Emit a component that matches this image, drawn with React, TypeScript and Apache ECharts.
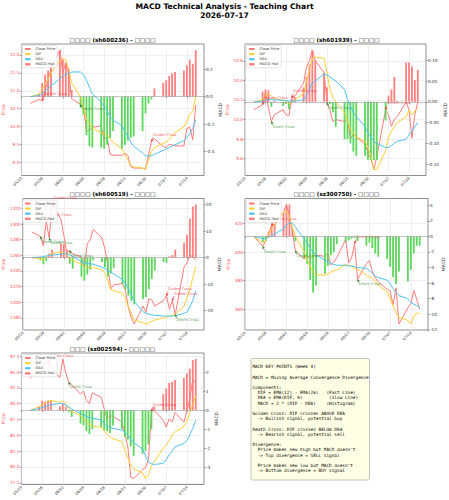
import { useEffect, useRef } from 'react';
import * as echarts from 'echarts';

// Trading days shown on every panel
const dates = [
  '05/22',
  '05/25', '05/26', '05/27', '05/28', '05/29',
  '06/01', '06/02', '06/03', '06/04', '06/05',
  '06/08', '06/09', '06/10', '06/11', '06/12',
  '06/15', '06/16', '06/17', '06/18', '06/19',
  '06/22', '06/23', '06/24', '06/25', '06/26',
  '06/29', '06/30', '07/01', '07/02', '07/03',
  '07/06', '07/07', '07/08', '07/09', '07/10',
  '07/13', '07/14', '07/15', '07/16', '07/17',
];
const weekTicks = ['05/19', '05/26', '06/02', '06/09', '06/16', '06/23', '06/30', '07/07', '07/14'];

// sh600236
const close600236 = [10.65, 10.76, 10.72, 11.02, 11.3, 11.6, 12.14, 11.5, 11.78, 11.48, 10.78, 10.62, 10.55, 9.86, 9.92, 9.98, 10.02, 9.62, 9.72, 9.22, 9.2, 9.2, 9.25, 9.2, 8.88, 8.84, 8.84, 8.8, 9.2, 9.58, 9.66, 9.44, 9.42, 9.5, 9.49, 9.46, 9.46, 9.95, 9.98, 9.63, 10.6];
const dif600236 = [0, 0.02, 0.05, 0.09, 0.13, 0.17, 0.26, 0.28, 0.27, 0.2, 0.1, 0.0, -0.08, -0.16, -0.2, -0.23, -0.26, -0.27, -0.28, -0.31, -0.33, -0.38, -0.42, -0.46, -0.5, -0.51, -0.52, -0.53, -0.46, -0.4, -0.37, -0.34, -0.33, -0.31, -0.29, -0.26, -0.22, -0.18, -0.13, -0.1, 0.0];
const dea600236 = [0, 0.01, 0.02, 0.04, 0.06, 0.08, 0.13, 0.15, 0.16, 0.17, 0.18, 0.18, 0.16, 0.12, 0.07, 0.02, -0.04, -0.07, -0.1, -0.15, -0.17, -0.21, -0.25, -0.29, -0.33, -0.36, -0.41, -0.43, -0.43, -0.43, -0.42, -0.39, -0.38, -0.37, -0.36, -0.35, -0.32, -0.3, -0.27, -0.23, -0.17];
const hist600236 = [0.0, 0.02, 0.1, 0.16, 0.19, 0.22, 0.34, 0.27, 0.25, 0.2, 0.05, -0.08, -0.13, -0.28, -0.36, -0.37, -0.37, -0.38, -0.35, -0.3, -0.25, -0.38, -0.35, -0.32, -0.3, -0.29, -0.25, -0.12, -0.05, -0.02, 0.06, 0.1, 0.12, 0.15, 0.17, 0.18, 0.19, 0.23, 0.27, 0.24, 0.34];
const priceTicks600236 = ['9.0', '9.5', '10.0', '10.5', '11.0', '11.5', '12.0'];
const macdTicks600236 = ['-0.4', '-0.2', '0.0', '0.2'];
const crosses600236: [number, string][] = [[2, 'golden'], [11, 'death'], [29, 'golden']];

// sh601939
const close601939 = [10.1, 10.15, 10.28, 10.12, 9.98, 10.05, 10.1, 10.05, 10.04, 10.22, 10.24, 10.37, 10.54, 10.6, 10.71, 10.6, 10.48, 10.17, 10.1, 9.98, 10.0, 9.98, 10.0, 9.8, 9.85, 9.82, 9.75, 9.66, 9.6, 9.49, 9.62, 10.1, 10.05, 9.93, 10.0, 10.03, 10.18, 10.1, 9.81, 10.05, 10.18];
const dif601939 = [0, 0.005, 0.015, 0.02, 0.015, 0.008, 0.004, 0.0, -0.004, 0.0, 0.004, 0.02, 0.05, 0.08, 0.104, 0.108, 0.105, 0.07, 0.03, 0.01, 0.0, -0.026, -0.045, -0.068, -0.075, -0.085, -0.095, -0.11, -0.13, -0.163, -0.163, -0.118, -0.085, -0.07, -0.06, -0.05, -0.036, -0.02, -0.032, -0.022, -0.016];
const dea601939 = [0, 0.002, 0.004, 0.006, 0.006, 0.005, 0.004, 0.003, 0.002, 0.002, 0.002, 0.005, 0.015, 0.03, 0.045, 0.05, 0.067, 0.065, 0.06, 0.055, 0.05, 0.03, 0.005, -0.01, -0.025, -0.035, -0.06, -0.075, -0.085, -0.095, -0.1, -0.11, -0.11, -0.105, -0.1, -0.095, -0.09, -0.08, -0.07, -0.06, -0.05];
const hist601939 = [0, 0.025, 0.03, 0.028, -0.012, 0.003, -0.01, -0.005, -0.018, 0.008, 0.012, 0.035, 0.06, 0.09, 0.125, 0.1, 0.07, 0.035, -0.005, -0.025, -0.06, -0.09, -0.09, -0.1, -0.12, -0.13, -0.13, -0.14, -0.14, -0.14, -0.14, -0.045, 0.015, 0.03, 0.06, 0.002, 0.095, 0.095, 0.085, 0.053, 0.077];
const priceTicks601939 = ['9.6', '9.8', '10.0', '10.2', '10.4', '10.6'];
const macdTicks601939 = ['-0.15', '-0.10', '-0.05', '0.00', '0.05', '0.10'];
const crosses601939: [number, string][] = [[1, 'golden'], [4, 'death'], [9, 'golden'], [17, 'death'], [31, 'golden']];

// sh600519
const close600519 = [1290, 1284, 1272, 1303, 1282, 1325, 1306, 1285, 1262, 1266, 1262, 1258, 1244, 1275, 1280, 1293, 1282, 1268, 1247, 1217, 1222, 1224, 1215, 1193, 1180, 1172, 1195, 1187, 1204, 1203, 1195, 1202, 1208, 1191, 1202, 1184, 1245, 1250, 1260, 1258, 1254];
const dif600519 = [0, -0.5, -0.8, 0.2, 1.0, 1.6, 2.2, 1.8, 1.0, 0.0, -1.0, -2.5, -3.5, -3.7, -3.8, -3.8, -4.6, -6.0, -8.7, -12.2, -12.4, -13.5, -15.5, -18.5, -21, -23.5, -24.5, -25, -24.5, -24, -23.5, -22.7, -22.4, -22, -21.7, -21.3, -18.3, -15, -12, -7.4, -3.3];
const dea600519 = [0, 0.2, 0.4, 0.6, 0.8, 1.0, 1.3, 1.5, 1.3, 1.0, 0.5, -1.6, -2.0, -2.2, -2.3, -2.5, -3.6, -4.2, -4.8, -5.5, -6.1, -8.3, -9.8, -11.6, -14, -16.5, -20.3, -21, -21.3, -21.6, -21.7, -22, -22, -22, -22, -21.8, -21, -20.5, -18.5, -16, -12.5];
const hist600519 = [0, -1.0, -2.5, -1.2, 1.5, 3.0, 5.3, 5.0, 3.0, -2.3, -4.2, -7.2, -8.7, -6.4, -4.6, -1.0, -1.7, -3.6, -7.2, -6.0, -4.0, -10, -12, -14.4, -16.3, -17.6, -15.7, -14.8, -11.9, -8, -4.9, -1.7, -2, 0.5, 0.9, 3, 5.6, 8.6, 14.6, 19.2, 20];
const priceTicks600519 = ['1180', '1200', '1220', '1240', '1260', '1280', '1300', '1320'];
const macdTicks600519 = ['-20', '-10', '0', '10', '20'];
const crosses600519: [number, string][] = [[5, 'golden'], [3, 'golden'], [1, 'death'], [4, 'death'], [9, 'death'], [32, 'golden'], [34, 'golden'], [35, 'death']];

// sz300750
const close300750 = [411, 404, 408, 413.6, 418.4, 419, 428, 433.4, 425, 415, 401, 395, 398, 395, 397, 398, 397, 399.5, 391, 393, 396, 409, 392.5, 396, 406, 381, 392, 394, 386.6, 382, 379, 374, 373, 363, 375, 349.6, 361, 364, 373, 367, 360];
const dif300750 = [0, -0.8, -0.6, 0.3, 1.0, 1.6, 3.0, 3.3, 2.5, 1.2, 0.0, -2.0, -3.0, -3.8, -4.6, -4.9, -5.0, -4.8, -4.6, -4.4, -4.3, -3.6, -3.7, -3.9, -4.1, -4.2, -5.0, -5.2, -5.4, -5.8, -6.3, -7.1, -8.0, -8.9, -9.8, -10.4, -10.8, -11.25, -10.3, -9.8, -10.0];
const dea300750 = [0, -0.3, -0.3, -0.1, 0.1, 0.3, 1.0, 1.5, 1.7, 1.7, 1.2, -0.3, -0.9, -1.5, -2.0, -2.4, -3.0, -3.3, -3.5, -3.6, -3.7, -3.7, -3.8, -3.8, -3.9, -4.0, -4.1, -4.4, -4.7, -5.1, -5.3, -5.6, -6.1, -6.7, -7.2, -7.6, -8.0, -8.5, -8.7, -8.9, -9.1];
const hist300750 = [0, -0.7, -0.6, 0.6, 1.3, 1.6, 3.0, 4.1, 4.1, 1.0, -0.6, -2.8, -3.5, -5.6, -7.2, -6.3, -4.8, -3.8, -2.4, -2.0, -1.0, -0.7, -0.5, -0.3, -0.2, -0.6, -1.2, -0.8, -1.5, -2.2, -2.6, -2.9, -3.9, -5.2, -6.1, -4.5, -5.8, -4.3, -2.2, -1.2, -1.2];
const priceTicks300750 = ['360', '380', '400', '420'];
const macdTicks300750 = ['-12', '-10', '-8', '-6', '-4', '-2', '0', '2', '4'];
const crosses300750: [number, string][] = [[4, 'golden'], [1, 'death'], [10, 'death'], [24, 'golden'], [25, 'death']];

// sz002594
const close002594 = [94.05, 95.3, 95.85, 96.6, 96.4, 95.9, 94.1, 97.06, 94.8, 93.4, 93.0, 91.5, 92.0, 90.5, 90.0, 91.7, 91.0, 89.2, 87.6, 88.1, 88.0, 87.1, 85.3, 83.2, 78.4, 78.18, 79.6, 79.9, 81.2, 88.8, 88.9, 87.4, 86.3, 87.6, 87.1, 88.6, 87.1, 88.9, 90.7, 93.8, 93.3];
const dif002594 = [0, 0.2, 0.3, 0.4, 0.48, 0.52, 0.42, 0.5, 0.35, 0.1, -0.05, -0.28, -0.45, -0.62, -0.75, -0.84, -0.9, -1.1, -1.25, -1.4, -1.5, -1.65, -2.1, -2.5, -2.9, -3.1, -3.3, -3.6, -3.4, -2.95, -2.7, -2.0, -1.85, -1.6, -1.3, -1.15, -0.84, -0.6, -0.1, 0.3, 0.76];
const dea002594 = [0, 0.1, 0.15, 0.2, 0.25, 0.3, 0.36, 0.36, 0.28, 0.17, 0.07, -0.17, -0.25, -0.33, -0.38, -0.42, -0.5, -0.7, -0.85, -0.9, -0.95, -1.05, -1.14, -1.3, -1.55, -1.7, -2.05, -2.4, -2.75, -2.82, -2.86, -2.8, -2.6, -2.35, -2.15, -1.92, -1.75, -1.6, -1.3, -0.95, -0.53];
const hist002594 = [0, 0.2, 0.5, 0.45, 0.5, 0.55, 0.2, 0.35, 0.2, -0.1, -0.35, -0.7, -0.8, -1.1, -1.25, -1.0, -0.9, -1.05, -1.1, -1.2, -0.8, -1.0, -1.4, -1.55, -1.9, -2.4, -2.3, -2.15, -1.8, -1.0, 0.2, 0.85, 1.15, 1.45, 1.5, 1.6, 1.7, 1.95, 2.2, 2.65, 2.71];
const priceTicks002594 = ['77.5', '80.0', '82.5', '85.0', '87.5', '90.0', '92.5', '95.0', '97.5'];
const macdTicks002594 = ['-3', '-2', '-1', '0', '1', '2'];
const crosses002594: [number, string][] = [[4, 'golden'], [9, 'death'], [29, 'golden']];

const keyPoints = [
  'MACD KEY POINTS (Week 4)',
  '',
  'MACD = Moving Average Convergence Divergence',
  '',
  'Components:',
  '  DIF = EMA(12) - EMA(26)   (Fast Line)',
  '  DEA = EMA(DIF, 9)          (Slow Line)',
  '  MACD = 2 * (DIF - DEA)    (Histogram)',
  '',
  'Golden Cross: DIF crosses ABOVE DEA',
  '  -> Bullish signal, potential buy',
  '',
  'Death Cross: DIF crosses BELOW DEA',
  '  -> Bearish signal, potential sell',
  '',
  'Divergence:',
  "  Price makes new high but MACD doesn't",
  '  -> Top divergence = SELL signal',
  '',
  "  Price makes new low but MACD doesn't",
  '  -> Bottom divergence = BUY signal',
];

// Colours
const PRICE_COLOR = '#ff7b7b';
const PRICE_TEXT = '#ff4d4d';
const DIF_COLOR = '#ffd033';
const DEA_COLOR = '#4cc3f5';
const UP_COLOR = '#ff7f7f';
const DOWN_COLOR = '#5bd75b';
const GOLDEN_COLOR = '#ee3333';
const DEATH_COLOR = '#2a8a2a';
const GRID_COLOR = '#e6e6e6';
const FONT = 'DejaVu Sans';

// Layout of the 3 x 2 subplot grid
const COLS = [21, 245];
const COL_W = 183;
const ROWS = [44, 198.5, 353];
const ROW_H = 131.5;

const dayOf = (s: string) => {
  const [m, d] = s.split('/').map(Number);
  return Math.round((Date.UTC(2026, m - 1, d) - Date.UTC(2026, 4, 19)) / 86400000);
};
const days = dates.map(dayOf);
const tickDays = weekTicks.map(dayOf);
const X_MIN = 0;
const X_MAX = days[days.length - 1] + (days[days.length - 1] - days[0]) * 0.05;

const padExtent = (vals: number[]) => {
  const lo = Math.min(...vals);
  const hi = Math.max(...vals);
  const m = (hi - lo) * 0.05;
  return [lo - m, hi + m];
};

const panels = [
  { title: '□□□□ (sh600236) - □□□□', close: close600236, dif: dif600236, dea: dea600236, hist: hist600236, priceTicks: priceTicks600236, macdTicks: macdTicks600236, crosses: crosses600236, col: 0, row: 0, priceGap: 13, macdGap: 11 },
  { title: '□□□□ (sh601939) - □□□□', close: close601939, dif: dif601939, dea: dea601939, hist: hist601939, priceTicks: priceTicks601939, macdTicks: macdTicks601939, crosses: crosses601939, col: 1, row: 0, priceGap: 13, macdGap: 13 },
  { title: '□□□□ (sh600519) - □□□□', close: close600519, dif: dif600519, dea: dea600519, hist: hist600519, priceTicks: priceTicks600519, macdTicks: macdTicks600519, crosses: crosses600519, col: 0, row: 1, priceGap: 13, macdGap: 10 },
  { title: '□□□□ (sz300750) - □□□□', close: close300750, dif: dif300750, dea: dea300750, hist: hist300750, priceTicks: priceTicks300750, macdTicks: macdTicks300750, crosses: crosses300750, col: 1, row: 1, priceGap: 11, macdGap: 10 },
  { title: '□□□ (sz002594) - □□□□□', close: close002594, dif: dif002594, dea: dea002594, hist: hist002594, priceTicks: priceTicks002594, macdTicks: macdTicks002594, crosses: crosses002594, col: 0, row: 2, priceGap: 13, macdGap: 9 },
];

function buildOption() {
  const grid: any[] = [];
  const xAxis: any[] = [];
  const yAxis: any[] = [];
  const series: any[] = [];
  const legend: any[] = [];
  const graphic: any[] = [
    { type: 'text', x: 224.5, y: 6.5, style: { text: 'MACD Technical Analysis - Teaching Chart', font: `bold 7.6px "${FONT}"`, fill: '#000', align: 'center', verticalAlign: 'middle' } },
    { type: 'text', x: 224.5, y: 15.5, style: { text: '2026-07-17', font: `bold 7.6px "${FONT}"`, fill: '#000', align: 'center', verticalAlign: 'middle' } },
  ];

  const tickLabel = (ticks: string[]) => (v: number) => {
    const t = ticks.find((s) => Math.abs(Number(s) - v) < 1e-9);
    return t ?? '';
  };

  panels.forEach((p, k) => {
    const left = COLS[p.col];
    const top = ROWS[p.row];
    const [pMin, pMax] = padExtent(p.close);
    const [mMin, mMax] = padExtent([...p.dif, ...p.dea, ...p.hist, 0]);
    const priceVals = p.priceTicks.map(Number).filter((v) => v >= pMin && v <= pMax);
    const macdVals = p.macdTicks.map(Number).filter((v) => v >= mMin && v <= mMax);

    grid.push({ left, top, width: COL_W, height: ROW_H, show: true, borderColor: '#444', borderWidth: 0.6, backgroundColor: 'transparent' });

    xAxis.push({
      type: 'value', gridIndex: k, min: X_MIN, max: X_MAX,
      axisLine: { show: false },
      axisTick: { show: true, length: 1.5, lineStyle: { color: '#444', width: 0.6 }, customValues: tickDays },
      axisLabel: { customValues: tickDays, formatter: (v: number) => weekTicks[tickDays.indexOf(Math.round(v))] ?? '', rotate: 45, fontSize: 3.8, color: '#333', margin: 2, fontFamily: FONT },
      splitLine: { show: true, lineStyle: { color: GRID_COLOR, width: 0.6 } },
    });

    yAxis.push({
      type: 'value', gridIndex: k, position: 'left', min: pMin, max: pMax,
      name: 'Price', nameLocation: 'middle', nameGap: p.priceGap, nameRotate: 90,
      nameTextStyle: { color: PRICE_TEXT, fontSize: 4.6, fontFamily: FONT },
      axisLine: { show: false },
      axisTick: { show: true, length: 1.5, lineStyle: { color: '#444', width: 0.6 }, customValues: priceVals },
      axisLabel: { customValues: priceVals, formatter: tickLabel(p.priceTicks), fontSize: 4.3, color: PRICE_TEXT, margin: 2, fontFamily: FONT },
      splitLine: { show: true, lineStyle: { color: GRID_COLOR, width: 0.6 } },
    });
    yAxis.push({
      type: 'value', gridIndex: k, position: 'right', min: mMin, max: mMax,
      name: 'MACD', nameLocation: 'middle', nameGap: p.macdGap, nameRotate: 90,
      nameTextStyle: { color: '#333', fontSize: 4.6, fontFamily: FONT },
      axisLine: { show: false },
      axisTick: { show: true, length: 1.5, lineStyle: { color: '#444', width: 0.6 }, customValues: macdVals },
      axisLabel: { customValues: macdVals, formatter: tickLabel(p.macdTicks), fontSize: 4.3, color: '#333', margin: 2, fontFamily: FONT },
      splitLine: { show: false },
    });

    const pts = (arr: number[]) => arr.map((v, i) => [days[i], v]);

    series.push({
      type: 'line', name: 'Close Price', xAxisIndex: k, yAxisIndex: 2 * k,
      data: pts(p.close), symbol: 'none', z: 1,
      lineStyle: { color: PRICE_COLOR, width: 1 }, itemStyle: { color: PRICE_COLOR },
    });
    series.push({
      type: 'bar', name: 'MACD Hist', xAxisIndex: k, yAxisIndex: 2 * k + 1, barWidth: 1.8, z: 2,
      itemStyle: { color: UP_COLOR },
      data: p.hist.map((v, i) => ({ value: [days[i], v], itemStyle: { color: v >= 0 ? UP_COLOR : DOWN_COLOR } })),
      markLine: { silent: true, symbol: 'none', label: { show: false }, lineStyle: { color: '#9a9a9a', width: 0.6, type: 'solid' }, data: [{ yAxis: 0 }] },
    });
    series.push({
      type: 'line', name: 'DIF', xAxisIndex: k, yAxisIndex: 2 * k + 1,
      data: pts(p.dif), symbol: 'none', z: 3,
      lineStyle: { color: DIF_COLOR, width: 1 }, itemStyle: { color: DIF_COLOR },
    });
    series.push({
      type: 'line', name: 'DEA', xAxisIndex: k, yAxisIndex: 2 * k + 1,
      data: pts(p.dea), symbol: 'none', z: 3,
      lineStyle: { color: DEA_COLOR, width: 1 }, itemStyle: { color: DEA_COLOR },
    });

    // Golden / death cross annotations anchored on the closing price
    const pxPerDay = COL_W / (X_MAX - X_MIN);
    const pxPerPrice = ROW_H / (pMax - pMin);
    series.push({
      type: 'scatter', name: 'crosses', xAxisIndex: k, yAxisIndex: 2 * k, z: 4,
      symbolSize: 1, itemStyle: { color: 'transparent' }, silent: true,
      data: p.crosses.map(([i, kind]) => ({
        value: [days[i], p.close[i]],
        label: {
          show: true, formatter: kind === 'golden' ? 'Golden Cross' : 'Death Cross',
          color: kind === 'golden' ? GOLDEN_COLOR : DEATH_COLOR,
          position: [1.8, kind === 'golden' ? -6.2 : 5.6], align: 'left', verticalAlign: 'middle',
          fontSize: 3.6, fontFamily: FONT,
        },
      })),
      markLine: {
        silent: true, symbol: ['none', 'arrow'], symbolSize: 2.4, label: { show: false },
        data: p.crosses.map(([i, kind]) => {
          const c = kind === 'golden' ? GOLDEN_COLOR : DEATH_COLOR;
          const dy = kind === 'golden' ? 4.4 / pxPerPrice : -3.8 / pxPerPrice;
          return [
            { coord: [days[i] + 1.6 / pxPerDay, p.close[i] + dy], lineStyle: { color: c, width: 0.6, type: 'solid' } },
            { coord: [days[i], p.close[i]] },
          ];
        }),
      },
    });

    legend.push({
      left: left + 1.5, top: top + 1.5, orient: 'vertical', selectedMode: false, z: 10,
      itemWidth: 5.5, itemHeight: 2.4, itemGap: 1.1, padding: [1.5, 2, 1.5, 1.5],
      backgroundColor: 'rgba(255,255,255,0.85)', borderColor: '#cccccc', borderWidth: 0.5, borderRadius: 1,
      textStyle: { fontSize: 3.6, color: '#333', fontFamily: FONT, lineHeight: 3.9 },
      data: [
        { name: 'Close Price' },
        { name: 'DIF' },
        { name: 'DEA' },
        { name: 'MACD Hist', icon: 'rect', itemStyle: { color: UP_COLOR } },
      ],
    });

    graphic.push({
      type: 'text', x: left + COL_W / 2, y: top - 4.3,
      style: { text: p.title, font: `bold 5.6px "${FONT}"`, fill: '#000', align: 'center', verticalAlign: 'middle' },
    });
  });

  // Key points text box in the spare cell
  graphic.push({
    type: 'rect', shape: { x: 251, y: 358.5, width: 118.5, height: 121.5, r: 1.5 },
    style: { fill: 'rgba(255,255,224,0.85)', stroke: '#9a9a9a', lineWidth: 0.6 },
  });
  graphic.push({
    type: 'text', x: 252.4, y: 364.2,
    style: { text: keyPoints.join('\n'), font: '4.4px "DejaVu Sans Mono"', lineHeight: 5.2, fill: '#000', align: 'left', verticalAlign: 'top' },
  });

  return {
    animation: false,
    backgroundColor: '#ffffff',
    textStyle: { fontFamily: FONT },
    grid, xAxis, yAxis, series, legend, graphic,
  };
}

export default function App() {
  const ref = useRef<HTMLDivElement>(null);
  useEffect(() => {
    const chart = echarts.init(ref.current!, null, { renderer: 'svg' });
    chart.setOption(buildOption() as any);
    return () => chart.dispose();
  }, []);
  return <div ref={ref} style={{ position: 'absolute', left: 0, top: 0, width: 449, height: 500, background: '#fff' }} />;
}
